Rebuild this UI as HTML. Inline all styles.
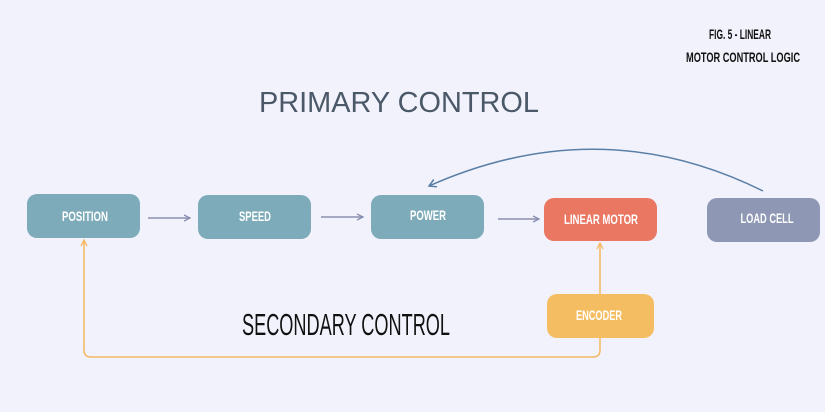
<!DOCTYPE html>
<html><head><style>
html,body{margin:0;padding:0;background:#f2f2fc;}
svg{display:block}
text{font-family:"Liberation Sans",sans-serif;}
</style></head><body>
<svg width="825" height="412" viewBox="0 0 825 412" xmlns="http://www.w3.org/2000/svg">
<defs>
<marker id="ag" markerWidth="8" markerHeight="8" refX="7" refY="4" orient="auto" markerUnits="userSpaceOnUse"><path d="M1,1 L7,4 L1,7" fill="none" stroke="#8a8fb0" stroke-width="1.3"/></marker>
<marker id="ab" markerWidth="10" markerHeight="10" refX="8" refY="5" orient="auto" markerUnits="userSpaceOnUse"><path d="M1,1 L8,5 L1,9" fill="none" stroke="#5a7fa6" stroke-width="1.5"/></marker>
<marker id="ao" markerWidth="8" markerHeight="8" refX="7" refY="4" orient="auto" markerUnits="userSpaceOnUse"><path d="M1,1 L7,4 L1,7" fill="none" stroke="#f5b860" stroke-width="1.3"/></marker>
</defs>
<rect width="825" height="412" fill="#f2f2fc"/>
<text x="740" y="39" font-size="14" font-weight="bold" fill="#111" text-anchor="middle" textLength="62" lengthAdjust="spacingAndGlyphs">FIG. 5 - LINEAR</text>
<text x="743" y="62" font-size="14" font-weight="bold" fill="#111" text-anchor="middle" textLength="114" lengthAdjust="spacingAndGlyphs">MOTOR CONTROL LOGIC</text>
<text x="399" y="112" font-size="29" fill="#4a5868" text-anchor="middle" textLength="280" lengthAdjust="spacingAndGlyphs">PRIMARY CONTROL</text>
<text x="346" y="335" font-size="31" fill="#111" text-anchor="middle" textLength="208" lengthAdjust="spacingAndGlyphs">SECONDARY CONTROL</text>
<path d="M763,191 Q600,110 429,186" fill="none" stroke="#5a7fa6" stroke-width="1.5" marker-end="url(#ab)"/>
<line x1="148" y1="218" x2="190" y2="218" stroke="#8a8fb0" stroke-width="1.5" marker-end="url(#ag)"/>
<line x1="321" y1="217" x2="363" y2="217" stroke="#8a8fb0" stroke-width="1.5" marker-end="url(#ag)"/>
<line x1="498" y1="219" x2="539" y2="219" stroke="#8a8fb0" stroke-width="1.5" marker-end="url(#ag)"/>
<line x1="600" y1="294" x2="600" y2="243" stroke="#f5b860" stroke-width="1.5" marker-end="url(#ao)"/>
<path d="M600,338 L600,350 Q600,357 593,357 L91,357 Q84,357 84,350 L84,240" fill="none" stroke="#f5b860" stroke-width="1.5" marker-end="url(#ao)"/>
<rect x="27" y="194" width="113" height="44" rx="10" fill="#7eabb9"/>
<rect x="198" y="195" width="113" height="44" rx="10" fill="#7eabb9"/>
<rect x="371" y="195" width="113" height="44" rx="10" fill="#7eabb9"/>
<rect x="544" y="198" width="113" height="43" rx="10" fill="#ea7762"/>
<rect x="707" y="198" width="113" height="44" rx="10" fill="#8e98b5"/>
<rect x="547" y="294" width="107" height="44" rx="10" fill="#f5bd62"/>
<g font-size="14" font-weight="bold" fill="#fff" text-anchor="middle">
<text x="85" y="221" textLength="46" lengthAdjust="spacingAndGlyphs">POSITION</text>
<text x="255" y="221" textLength="32" lengthAdjust="spacingAndGlyphs">SPEED</text>
<text x="428" y="220" textLength="36" lengthAdjust="spacingAndGlyphs">POWER</text>
<text x="601" y="224" textLength="74" lengthAdjust="spacingAndGlyphs">LINEAR MOTOR</text>
<text x="767" y="223" textLength="53" lengthAdjust="spacingAndGlyphs">LOAD CELL</text>
<text x="599" y="320" textLength="46" lengthAdjust="spacingAndGlyphs">ENCODER</text>
</g>
</svg>
</body></html>
